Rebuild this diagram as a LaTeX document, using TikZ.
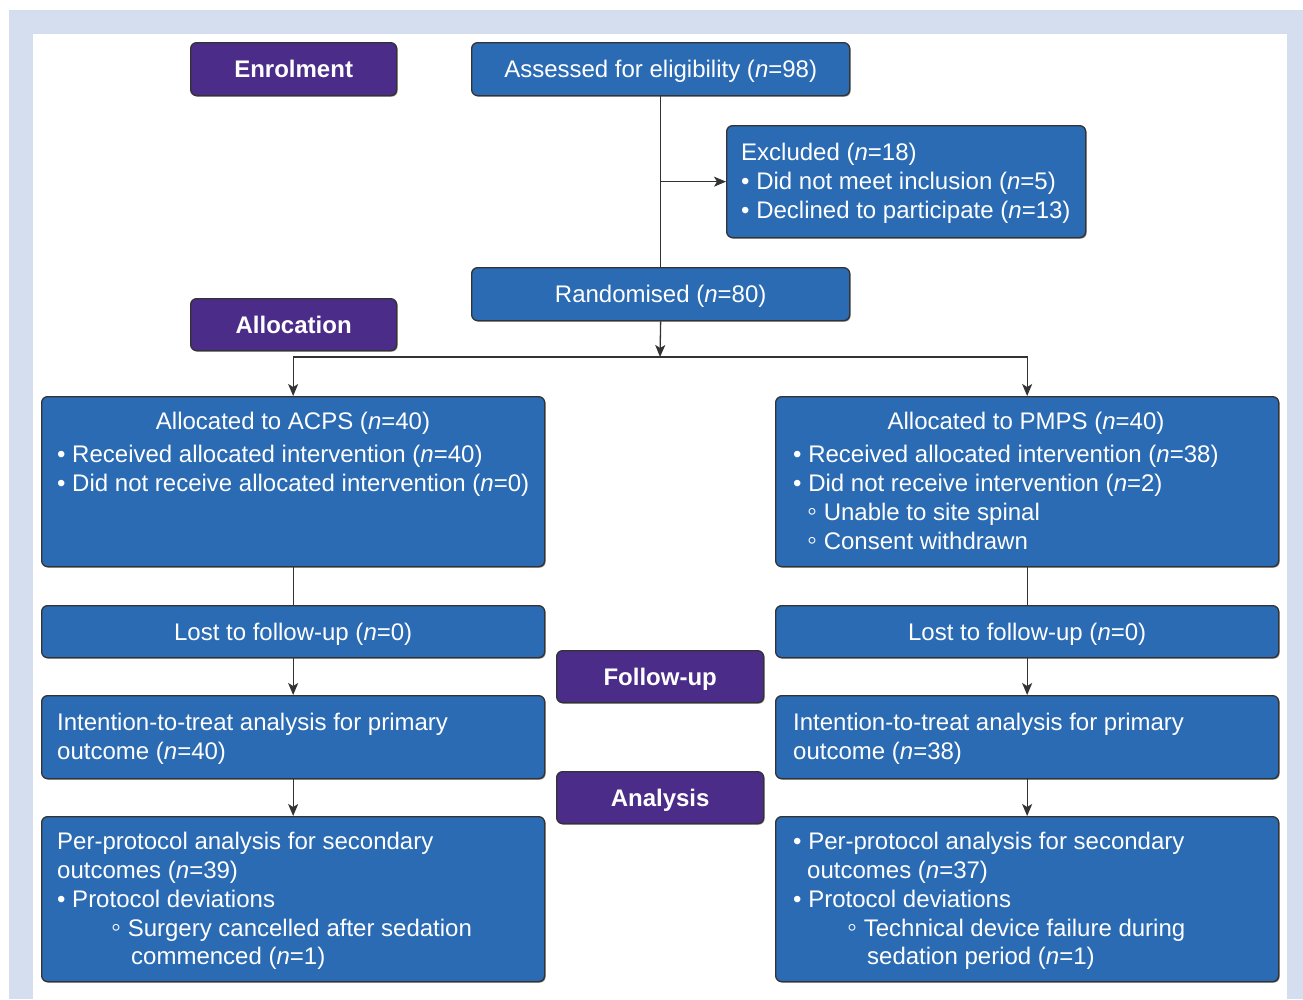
\documentclass[tikz,border=0pt]{standalone}
\usepackage{fontspec}
\setmainfont{Liberation Sans}
\usetikzlibrary{arrows.meta,shadows}
\definecolor{bgblue}{HTML}{D5DEEF}
\definecolor{boxblue}{HTML}{2A6BB4}
\definecolor{phase}{HTML}{4B2C89}
\definecolor{edge}{HTML}{333333}
\newcommand{\fs}{\fontsize{24}{29}\selectfont}
\newcommand{\nn}{\textit{n}}
\newcommand{\wb}{{\fontsize{28}{29}\selectfont ◦}}
\tikzset{
 box/.style={draw=edge, line width=1.3pt, rounded corners=6pt, inner sep=0pt, anchor=north west,
   text=white, font=\fs, text height=17.2pt, text depth=0pt,
   drop shadow={shadow xshift=1pt, shadow yshift=-1pt, fill=black, opacity=0.5}},
 bluebox/.style={box, fill=boxblue},
 phasebox/.style={box, fill=phase, font=\fs\bfseries},
 txt/.style={inner sep=0pt, text=white, font=\fs, anchor=base west},
 conn/.style={draw=edge, line width=1.3pt},
 arr/.style={conn, -{Stealth[length=12pt,width=10pt,inset=3pt]}},
}
\begin{document}
\begin{tikzpicture}[x=1pt,y=-1pt]
\useasboundingbox (0,0) rectangle (1303,999);
\fill[white] (0,0) rectangle (1303,999);
\fill[bgblue] (9,10) rectangle (1303,999);
\fill[white] (33,34) rectangle (1287,999);

% phase labels
\node[phasebox, minimum width=206pt, minimum height=53pt] (enrol) at (190,42) {Enrolment};
\node[phasebox, minimum width=206pt, minimum height=52pt] (alloc) at (190,298) {Allocation};
\node[phasebox, minimum width=207pt, minimum height=52pt] (follow) at (556,650) {Follow-up};
\node[phasebox, minimum width=207pt, minimum height=52pt] (anal) at (556,771) {Analysis};

% boxes
\node[bluebox, minimum width=378pt, minimum height=53pt] (assess) at (471,42) {Assessed for eligibility (\nn=98)};
\node[bluebox, minimum width=359pt, minimum height=112pt] (excl) at (726,125) {};
\node[bluebox, minimum width=378pt, minimum height=53pt] (rand) at (471,267) {Randomised (\nn=80)};
\node[bluebox, minimum width=503pt, minimum height=170pt] (acps) at (41,396) {};
\node[bluebox, minimum width=503pt, minimum height=170pt] (pmps) at (775,396) {};
\node[bluebox, minimum width=503pt, minimum height=52pt] (lostL) at (41,605) {Lost to follow-up (\nn=0)};
\node[bluebox, minimum width=503pt, minimum height=52pt] (lostR) at (775,605) {Lost to follow-up (\nn=0)};
\node[bluebox, minimum width=503pt, minimum height=83pt] (ittL) at (41,695) {};
\node[bluebox, minimum width=503pt, minimum height=83pt] (ittR) at (775,695) {};
\node[bluebox, minimum width=503pt, minimum height=165pt] (ppL) at (41,816) {};
\node[bluebox, minimum width=503pt, minimum height=165pt] (ppR) at (775,816) {};

% texts: excluded
\node[txt] (ex1) at (741,160.6) {Excluded (\nn=18)};
\node[txt] (ex2) at (741,189.6) {• Did not meet inclusion (\nn=5)};
\node[txt] (ex3) at (741,218.6) {• Declined to participate (\nn=13)};
% ACPS
\node[txt, anchor=base] (a1) at (293,429.6) {Allocated to ACPS (\nn=40)};
\node[txt] (a2) at (57,462.6) {• Received allocated intervention (\nn=40)};
\node[txt] (a3) at (57,491.6) {• Did not receive allocated intervention (\nn=0)};
% PMPS
\node[txt, anchor=base] (p1) at (1026,429.6) {Allocated to PMPS (\nn=40)};
\node[txt] (p2) at (793,462.6) {• Received allocated intervention (\nn=38)};
\node[txt] (p3) at (793,491.6) {• Did not receive intervention (\nn=2)};
\node[txt] (p4) at (807,520.6) {\wb\ Unable to site spinal};
\node[txt] (p5) at (807,549.6) {\wb\ Consent withdrawn};
% ITT
\node[txt] (il1) at (57,730.6) {Intention-to-treat analysis for primary};
\node[txt] (il2) at (57,759.6) {outcome (\nn=40)};
\node[txt] (ir1) at (793,730.6) {Intention-to-treat analysis for primary};
\node[txt] (ir2) at (793,759.6) {outcome (\nn=38)};
% PP left
\node[txt] (pl1) at (57,849.6) {Per-protocol analysis for secondary};
\node[txt] (pl2) at (57,878.6) {outcomes (\nn=39)};
\node[txt] (pl3) at (57,907.6) {• Protocol deviations};
\node[txt] (pl4) at (111,936.6) {\wb\ Surgery cancelled after sedation};
\node[txt] (pl5) at (131,964.6) {commenced (\nn=1)};
% PP right
\node[txt] (pr1) at (793,849.6) {• Per-protocol analysis for secondary};
\node[txt] (pr2) at (807,878.6) {outcomes (\nn=37)};
\node[txt] (pr3) at (793,907.6) {• Protocol deviations};
\node[txt] (pr4) at (847,936.6) {\wb\ Technical device failure during};
\node[txt] (pr5) at (867,964.6) {sedation period (\nn=1)};

% connectors
\draw[conn] (assess.south) -- (rand.north);
\coordinate (exj) at (assess.south |- excl.west);
\draw[arr] (exj) -- (excl.west);
\coordinate (split) at (660,357);
\draw[arr] (rand.south) -- (split);
\draw[arr] (split) -| (acps.north);
\draw[arr] (split) -| (pmps.north);
\draw[conn] (acps.south) -- (lostL.north);
\draw[arr] (lostL.south) -- (ittL.north);
\draw[arr] (ittL.south) -- (ppL.north);
\draw[conn] (pmps.south) -- (lostR.north);
\draw[arr] (lostR.south) -- (ittR.north);
\draw[arr] (ittR.south) -- (ppR.north);
\end{tikzpicture}
\end{document}
